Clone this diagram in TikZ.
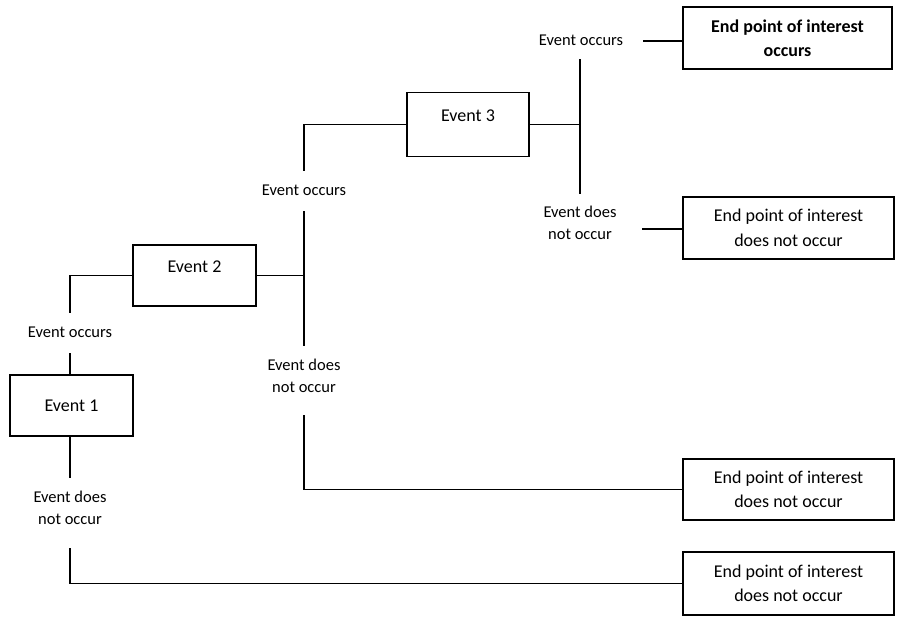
\documentclass[tikz,border=0pt]{standalone}
\usepackage{fontspec}
\setmainfont{Carlito}
\begin{document}
\begin{tikzpicture}[x=1pt, y=-1pt,
  box/.style={draw, line width=1.1pt, inner sep=0pt},
  lbl/.style={font=\fontsize{16.5}{22}\selectfont, align=center, inner sep=0pt},
  boxtext/.style={font=\fontsize{18}{24.5}\selectfont, align=center, inner sep=0pt},
  wire/.style={line width=1.1pt}]
\useasboundingbox (0,0) rectangle (901,616);

% event boxes
\node[box, boxtext, minimum width=123pt, minimum height=61pt] (e1) at (71.5,405.5) {Event 1};
\node[box, minimum width=123pt, minimum height=61pt] (e2) at (194.5,275.5) {};
\node[boxtext] (e2t) at (194.5,267) {Event 2};
\node[box, minimum width=122pt, minimum height=64pt] (e3) at (468,124.5) {};
\node[boxtext] (e3t) at (468,116) {Event 3};

% outcome boxes
\node[box, boxtext, font=\fontsize{18}{24.5}\selectfont\bfseries, minimum width=209pt, minimum height=62pt] (end1) at (787.5,38) {End point of interest\\occurs};
\node[box, boxtext, minimum width=211pt, minimum height=62pt] (end2) at (788.5,228) {End point of interest\\does not occur};
\node[box, boxtext, minimum width=211pt, minimum height=61pt] (end3) at (788.5,489.5) {End point of interest\\does not occur};
\node[box, boxtext, minimum width=211pt, minimum height=63pt] (end4) at (788.5,583.5) {End point of interest\\does not occur};

% branch labels
\node[lbl] (l1) at (70,332) {Event occurs};
\node[lbl] (l2) at (70,508) {Event does\\not occur};
\node[lbl] (l3) at (304,190) {Event occurs};
\node[lbl] (l4) at (304,376) {Event does\\not occur};
\node[lbl] (l5) at (581,40) {Event occurs};
\node[lbl] (l6) at (580,223) {Event does\\not occur};

% free ends of the branch lines
\coordinate (c1) at (70,313);
\coordinate (c2) at (70,353);
\coordinate (c3) at (70,478);
\coordinate (c4) at (70,548);
\coordinate (j2) at (304,275.5);
\coordinate (c5) at (304,211);
\coordinate (c6) at (304,346);
\coordinate (c7) at (304,171);
\coordinate (c8) at (304,415);
\coordinate (j3) at (580,124.5);
\coordinate (c9) at (580,59);
\coordinate (c10) at (580,194);
\coordinate (c11) at (643,41);
\coordinate (c12) at (642,229);

% branches of event 1
\draw[wire] (e2.west) -| (c1);
\draw[wire] (c2) -- (c2 |- e1.north);
\draw[wire] (c3 |- e1.south) -- (c3);
\draw[wire] (c4) |- (end4.west);

% branches of event 2
\draw[wire] (e2.east) -- (j2);
\draw[wire] (c5) -- (c6);
\draw[wire] (e3.west) -| (c7);
\draw[wire] (c8) |- (end3.west);

% branches of event 3
\draw[wire] (e3.east) -- (j3);
\draw[wire] (c9) -- (c10);
\draw[wire] (c11) -- (c11 -| end1.west);
\draw[wire] (c12) -- (c12 -| end2.west);
\end{tikzpicture}
\end{document}
